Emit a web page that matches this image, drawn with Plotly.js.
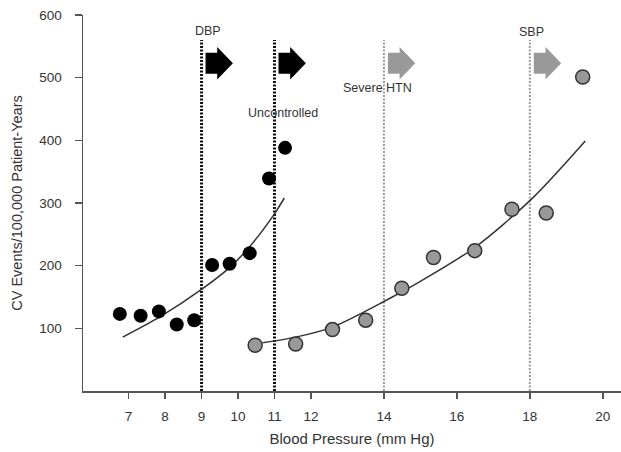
<!DOCTYPE html>
<html>
<head>
<meta charset="utf-8">
<script src="https://cdn.plot.ly/plotly-3.0.1.min.js"></script>
<style>html,body{margin:0;padding:0;background:#fff;}#chart{width:621px;height:452px;}</style>
</head>
<body>
<div id="chart"></div>
<script>
// DBP (black) observations
const dbpX = [6.76, 7.33, 7.83, 8.32, 8.80, 9.29, 9.77, 10.32, 10.85, 11.29];
const dbpY = [123, 120, 127, 106, 113, 201, 203, 220, 339, 388];
// DBP fitted curve
const dbpFitX = [6.84, 7.88, 9.0, 9.79, 10.4, 10.98, 11.27];
const dbpFitY = [86, 119, 162, 198, 236, 281, 308];
// SBP (gray) observations (x in tens of mm Hg)
const sbpX = [10.47, 11.58, 12.59, 13.50, 14.49, 15.36, 16.49, 17.51, 18.45, 19.45];
const sbpY = [73, 75, 98, 113, 164, 213, 224, 290, 284, 501];
// SBP fitted curve
const sbpFitX = [10.67, 11.58, 12.59, 14.04, 15.0, 16.49, 18.06, 19.52];
const sbpFitY = [77, 86, 102, 144, 175, 229, 307, 399];
// thresholds
const dbpLines = [9, 11];
const sbpLines = [14, 18];
// axis ticks
const xTicks = [7, 8, 9, 10, 11, 12, 14, 16, 18, 20];
const yTicks = [100, 200, 300, 400, 500, 600];
// labels
const labels = [
  {text: 'DBP', x: 9.19, y: 574},
  {text: 'Uncontrolled', x: 11.22, y: 444},
  {text: 'Severe HTN', x: 13.82, y: 483},
  {text: 'SBP', x: 18.04, y: 573}
];

const FONT = 'Liberation Sans, Arial, Helvetica, sans-serif';
const TXT = '#333';

function arrowPath(x0, yc) {
  const b0 = x0 + 0.11, hb = x0 + 0.43, tip = x0 + 0.86;
  const bh = 16.6, hh = 26;
  return `M${b0},${yc - bh} L${hb},${yc - bh} L${hb},${yc - hh} L${tip},${yc} L${hb},${yc + hh} L${hb},${yc + bh} L${b0},${yc + bh} Z`;
}

const shapes = [];
dbpLines.forEach(v => {
  shapes.push({type: 'line', xref: 'x', yref: 'y', x0: v, x1: v, y0: 0, y1: 560, layer: 'below',
    line: {color: '#111', width: 3, dash: '2px,1.5px'}});
  shapes.push({type: 'path', xref: 'x', yref: 'y', path: arrowPath(v, 523), fillcolor: '#000', line: {width: 0}});
});
sbpLines.forEach(v => {
  shapes.push({type: 'line', xref: 'x', yref: 'y', x0: v, x1: v, y0: 0, y1: 560, layer: 'below',
    line: {color: '#9a9a9a', width: 2, dash: '2px,1.5px'}});
  shapes.push({type: 'path', xref: 'x', yref: 'y', path: arrowPath(v, 523), fillcolor: '#999', line: {width: 0}});
});

const traces = [
  {x: dbpFitX, y: dbpFitY, mode: 'lines', line: {color: '#333', width: 1.5, shape: 'spline', smoothing: 0.8}, hoverinfo: 'skip'},
  {x: sbpFitX, y: sbpFitY, mode: 'lines', line: {color: '#333', width: 1.5, shape: 'spline', smoothing: 0.8}, hoverinfo: 'skip'},
  {x: dbpX, y: dbpY, mode: 'markers', marker: {color: '#000', size: 14}},
  {x: sbpX, y: sbpY, mode: 'markers', marker: {color: '#999', size: 14, line: {color: '#333', width: 1.5}}}
];

const layout = {
  width: 621, height: 452,
  margin: {l: 82.5, r: 0, t: 15, b: 61},
  paper_bgcolor: '#fff', plot_bgcolor: '#fff',
  showlegend: false,
  font: {family: FONT, color: TXT, size: 13},
  xaxis: {
    range: [5.75, 20.5], tickvals: xTicks, ticktext: xTicks.map(String),
    showgrid: false, zeroline: false, showline: true, linecolor: '#555', linewidth: 1.5,
    ticks: 'outside', ticklen: 6, tickwidth: 1.5, tickcolor: '#555', ticklabelstandoff: 6,
    tickfont: {size: 13.5, color: TXT, family: FONT},
    title: {text: 'Blood Pressure (mm Hg)', font: {size: 15, color: TXT, family: FONT}, standoff: 11}
  },
  yaxis: {
    range: [0, 600], tickvals: yTicks, ticktext: yTicks.map(String),
    showgrid: false, zeroline: false, showline: true, linecolor: '#555', linewidth: 1.5,
    ticks: 'outside', ticklen: 7, tickwidth: 1.5, tickcolor: '#555', ticklabelstandoff: 10,
    tickfont: {size: 13.5, color: TXT, family: FONT},
    title: {text: 'CV Events/100,000 Patient-Years', font: {size: 14.5, color: TXT, family: FONT}, standoff: 13}
  },
  shapes: shapes,
  annotations: labels.map(l => ({text: l.text, x: l.x, y: l.y, xref: 'x', yref: 'y', showarrow: false,
    xanchor: 'center', yanchor: 'middle', font: {size: 12.5, color: TXT, family: FONT}}))
};

Plotly.newPlot('chart', traces, layout, {staticPlot: true, displayModeBar: false});
</script>
</body>
</html>
